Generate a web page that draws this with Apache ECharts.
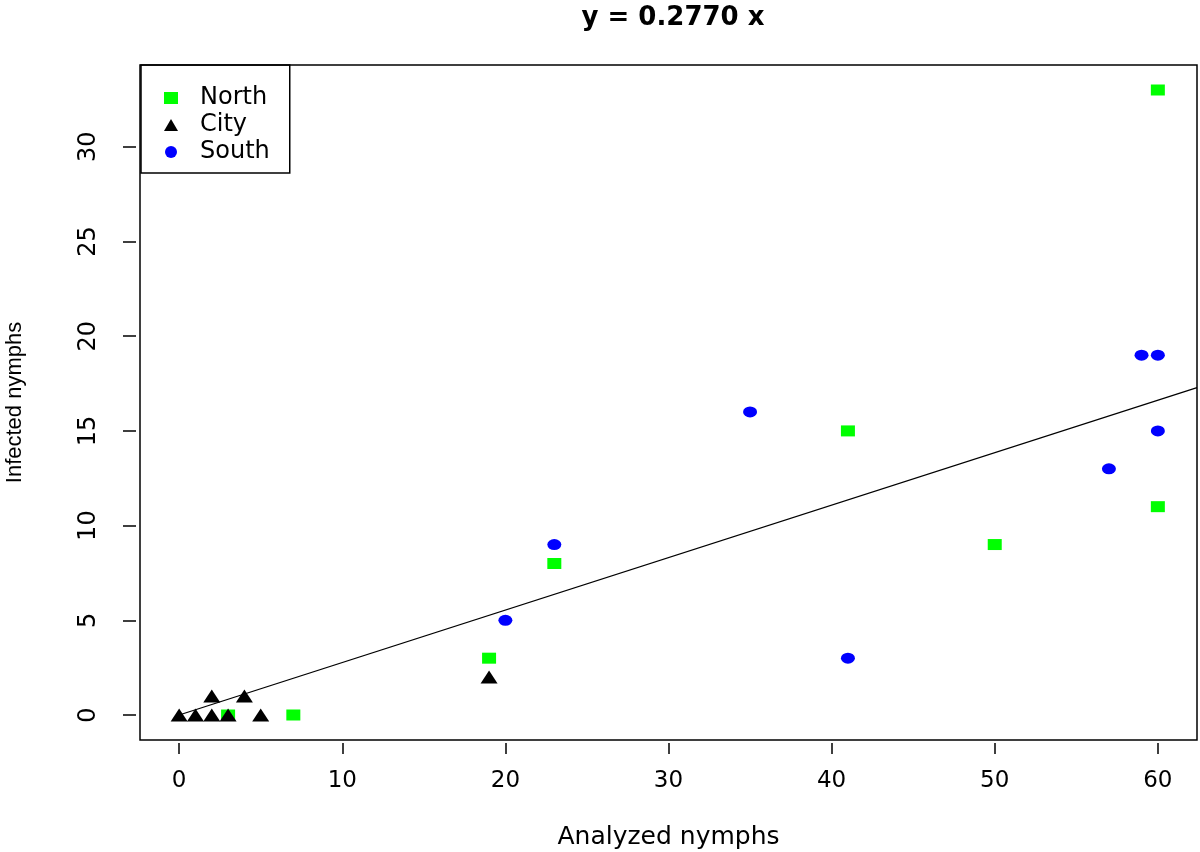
<!DOCTYPE html>
<html><head><meta charset="utf-8">
<script src="https://cdn.jsdelivr.net/npm/echarts@6/dist/echarts.min.js"></script>
<style>html,body{margin:0;padding:0;background:#fff}#c{width:1200px;height:852px}</style>
</head><body><div id="c"></div>
<script>
const titleText = 'y = 0.2770 x';
const slope = 0.2770;
const xTicks = [0, 10, 20, 30, 40, 50, 60];
const yTicks = [0, 5, 10, 15, 20, 25, 30];
const northData = [[3,0],[7,0],[19,3],[23,8],[41,15],[50,9],[60,11],[60,33]];
const cityData = [[0,0],[1,0],[2,0],[3,0],[2,1],[4,1],[5,0],[19,2]];
const southData = [[20,5],[23,9],[35,16],[41,3],[57,13],[59,19],[60,19],[60,15]];
const xMin = -2.4, xMax = 62.4, yMin = -1.32, yMax = 34.32;
const lineData = [[0, 0], [xMax, slope * xMax]];

const font = 'DejaVu Sans, sans-serif';
const font2 = 'Liberation Sans, Arial, sans-serif';
const chart = echarts.init(document.getElementById('c'), null, {renderer: 'canvas'});
chart.setOption({
  animation: false,
  backgroundColor: '#fff',
  title: {text: titleText, left: 668, textAlign: 'center', top: 0,
    textStyle: {fontFamily: font, fontSize: 26, fontWeight: 'bold', color: '#000'}},
  grid: {left: 140, right: 3, top: 65, bottom: 112, show: true, borderColor: '#000', borderWidth: 1.5,
    backgroundColor: 'transparent', outerBoundsMode: 'none', containLabel: false},
  legend: {
    orient: 'vertical', left: 141, top: 65, itemGap: 3,
    borderColor: '#000', borderWidth: 1.5, padding: [21, 20, 9, 23],
    itemWidth: 14, itemHeight: 12,
    textStyle: {fontFamily: font, fontSize: 24, color: '#000', padding: [0, 0, 0, 17]},
    data: [
      {name: 'North', icon: 'rect'},
      {name: 'City', icon: 'triangle'},
      {name: 'South', icon: 'circle'}
    ]
  },
  xAxis: {
    type: 'value', min: xMin, max: xMax, offset: 3,
    name: 'Analyzed nymphs', nameLocation: 'middle', nameGap: 82,
    nameTextStyle: {fontFamily: font, fontSize: 25, color: '#000'},
    axisLine: {show: false, onZero: false},
    axisTick: {show: true, length: 11, customValues: xTicks, lineStyle: {color: '#000', width: 1.5}},
    axisLabel: {customValues: xTicks, fontFamily: font, fontSize: 23, color: '#000', margin: 27},
    splitLine: {show: false}
  },
  yAxis: {
    type: 'value', min: yMin, max: yMax, offset: 4,
    name: 'Infected nymphs', nameLocation: 'middle', nameGap: 110,
    nameTextStyle: {fontFamily: font2, fontSize: 22, color: '#000'},
    axisLine: {show: false, onZero: false},
    axisTick: {show: true, length: 13, customValues: yTicks, lineStyle: {color: '#000', width: 1.5}},
    axisLabel: {customValues: yTicks, rotate: 90, fontFamily: font, fontSize: 24, color: '#000', margin: 35},
    splitLine: {show: false}
  },
  series: [
    {name: 'North', type: 'scatter', data: northData, symbol: 'rect', symbolSize: [14, 11],
      itemStyle: {color: '#00ff00', opacity: 1}},
    {name: 'City', type: 'scatter', data: cityData, symbol: 'triangle', symbolSize: [17, 13],
      itemStyle: {color: '#000', opacity: 1}},
    {name: 'South', type: 'scatter', data: southData, symbol: 'circle', symbolSize: [14, 11],
      itemStyle: {color: '#0000ff', opacity: 1}},
    {name: 'fit', type: 'line', data: lineData, symbol: 'none', silent: true,
      lineStyle: {color: '#000', width: 1.3}}
  ]
});
</script></body></html>
